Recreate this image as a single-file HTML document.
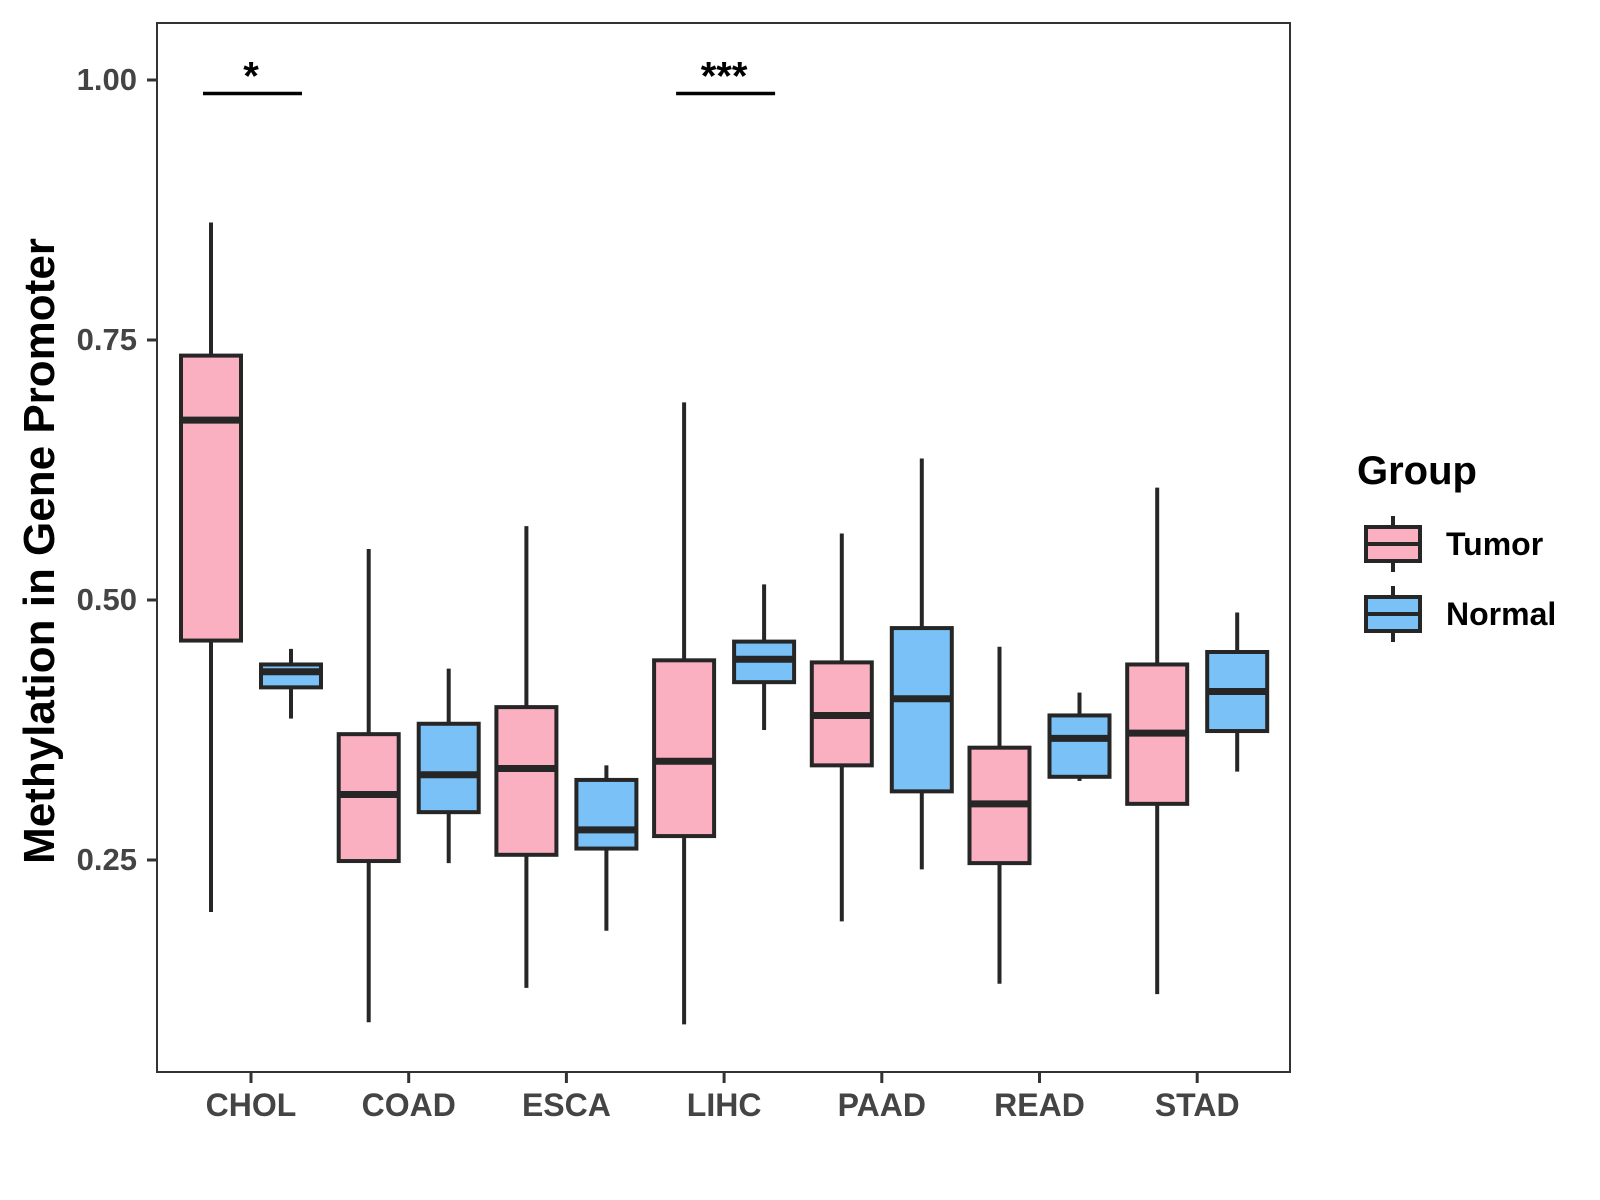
<!DOCTYPE html>
<html><head><meta charset="utf-8"><style>
html,body{margin:0;padding:0;background:#fff;width:1600px;height:1200px;overflow:hidden}
text{font-family:"Liberation Sans",Arial,sans-serif;font-weight:bold}
</style></head><body>
<svg id="chart" width="1600" height="1200" xmlns="http://www.w3.org/2000/svg"></svg>
<script>
const categories=["CHOL","COAD","ESCA","LIHC","PAAD","READ","STAD"];
// [lowWhisker, Q1, median, Q3, highWhisker]
const tumorStats=[[0.200,0.461,0.673,0.735,0.863],[0.094,0.249,0.313,0.371,0.549],[0.127,0.255,0.338,0.397,0.571],[0.092,0.273,0.345,0.442,0.690],[0.191,0.341,0.389,0.440,0.564],[0.131,0.247,0.304,0.358,0.455],[0.121,0.304,0.372,0.438,0.608]];
const normalStats=[[0.386,0.416,0.431,0.438,0.453],[0.247,0.296,0.332,0.381,0.434],[0.182,0.261,0.279,0.327,0.341],[0.375,0.421,0.443,0.460,0.515],[0.241,0.316,0.405,0.473,0.636],[0.326,0.330,0.367,0.389,0.411],[0.335,0.374,0.412,0.450,0.488]];
const yTicks=[0.25,0.50,0.75,1.00];
const yTickLabels=["0.25","0.50","0.75","1.00"];
const sigCategories=["CHOL","LIHC"];
const sigLabels=["*","***"];
const sigLevel=0.987;

const svg=document.getElementById('chart');
const NS='http://www.w3.org/2000/svg';
const L=157,T=23,R=1290,B=1072;
function y(v){return 80+(1-v)*1040;}
function x(i){return 251+i*157.7;}
function mk(tag,attrs,parent){const e=document.createElementNS(NS,tag);for(const k in attrs)e.setAttribute(k,attrs[k]);(parent||svg).appendChild(e);return e;}

const panel=mk('rect',{x:L,y:T,width:R-L,height:B-T,fill:'#fff',stroke:'#333','stroke-width':2});



yTicks.forEach((t,i)=>{
  const tk=mk('line',{x1:147,x2:L,y1:y(t),y2:y(t),stroke:'#333','stroke-width':3});
  
  
  const lb=mk('text',{x:137,y:y(t)+10,'text-anchor':'end','font-size':31,fill:'#444'});
  lb.textContent=yTickLabels[i];
  
  
});
categories.forEach((c,i)=>{
  const tk=mk('line',{x1:x(i),x2:x(i),y1:B,y2:B+11,stroke:'#333','stroke-width':3});
  
  
  const lb=mk('text',{x:x(i),y:1116,'text-anchor':'middle','font-size':32,fill:'#444'});
  lb.textContent=c;
  
  
});
function box(cx,s,fill,name){
  const g=mk('g',{});
  
  
  const w=30;
  mk('line',{x1:cx,x2:cx,y1:y(s[0]),y2:y(s[1]),stroke:'#262626','stroke-width':4},g);
  mk('line',{x1:cx,x2:cx,y1:y(s[3]),y2:y(s[4]),stroke:'#262626','stroke-width':4},g);
  mk('rect',{x:cx-w,y:y(s[3]),width:2*w,height:y(s[1])-y(s[3]),fill:fill,stroke:'#262626','stroke-width':4},g);
  mk('line',{x1:cx-w,x2:cx+w,y1:y(s[2]),y2:y(s[2]),stroke:'#262626','stroke-width':7},g);
}
categories.forEach((c,i)=>{
  box(x(i)-40,tumorStats[i],'#FBB0C1','box-tumor-'+c.toLowerCase());
  box(x(i)+40,normalStats[i],'#79C1F6','box-normal-'+c.toLowerCase());
});
sigCategories.forEach((c,j)=>{
  const i=categories.indexOf(c);
  const ln=mk('line',{x1:x(i)-48,x2:x(i)+51,y1:y(sigLevel),y2:y(sigLevel),stroke:'#000','stroke-width':3.5});
  
  
  const t=mk('text',{x:x(i),y:y(sigLevel)-4,'text-anchor':'middle','font-size':40,fill:'#000'});
  t.textContent=sigLabels[j];
  
  
});
const yt=mk('text',{transform:'translate(54,551) rotate(-90)','text-anchor':'middle','font-size':44,fill:'#000'});
yt.textContent='Methylation in Gene Promoter';



const lt=mk('text',{x:1357,y:484,'font-size':40,fill:'#000'});
lt.textContent='Group';


[['Tumor','#FBB0C1',544],['Normal','#79C1F6',614]].forEach(([n,f,cy])=>{
  const g=mk('g',{});
  
  
  mk('line',{x1:1393,x2:1393,y1:cy-28,y2:cy+28,stroke:'#262626','stroke-width':4},g);
  mk('rect',{x:1366,y:cy-17,width:54,height:34,fill:f,stroke:'#262626','stroke-width':4},g);
  mk('line',{x1:1366,x2:1420,y1:cy,y2:cy,stroke:'#262626','stroke-width':4},g);
  const t=mk('text',{x:1446,y:cy+11,'font-size':32,fill:'#000'},g);
  t.textContent=n;
});
</script>
</body></html>
